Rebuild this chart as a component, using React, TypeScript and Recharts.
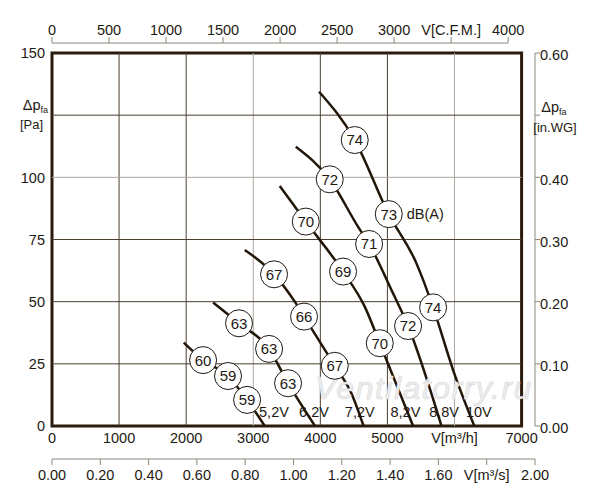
import {
  Line,
  LineChart,
  ReferenceArea,
  ReferenceDot,
  ReferenceLine,
  XAxis,
  YAxis,
} from "recharts";

type Pt = [number, number, number?];

// fan curves: [V m³/h, Δp Pa, dB(A) shown in a circle]
const curve52: Pt[] = [[1964, 33.5], [2252, 26.5, 60], [2624, 20.1, 59], [2908, 10.5, 59], [3171, 0]];
const curve62: Pt[] = [[2401, 49.7], [2788, 41.3, 63], [3236, 31.0, 63], [3519, 17.2, 63], [3920, 0]];
const curve72: Pt[] = [[2873, 70.8], [3310, 61.0, 67], [3619, 50.0], [3757, 44.0, 66], [4215, 24.2, 67], [4464, 13.1], [4645, 0]];
const curve82: Pt[] = [[3395, 96.5], [3783, 82.2, 70], [4339, 62.1, 69], [4662, 48.0], [4886, 33.3, 70], [5383, 0]];
const curve88: Pt[] = [[3634, 112.3], [4140, 99.2, 72], [4563, 80.1], [4727, 73.2, 71], [5060, 54.7], [5308, 40.2, 72], [5806, 0]];
const curve10: Pt[] = [[3981, 134.4], [4513, 115.0, 74], [5020, 85.2, 73], [5433, 65.4], [5681, 47.7, 74], [5979, 22.5], [6295, 0]];

const voltages = ["5,2V", "6,2V", "7,2V", "8,2V", "8,8V", "10V"];
const curves = [curve52, curve62, curve72, curve82, curve88, curve10];
// voltage labels along the bottom (V m³/h), all at the same Δp
const voltLabelQ = [3309, 3906, 4588, 5269, 5845, 6362];
const voltLabelP = 5.6;
const unitLabel = { text: "dB(A)", curve: "10V", point: 2 };

const flowTicks = [0, 1000, 2000, 3000, 4000, 5000, 6000, 7000];
const cfmTicks = [0, 500, 1000, 1500, 2000, 2500, 3000, 3500, 4000];
const m3sTicks = [0, 0.2, 0.4, 0.6, 0.8, 1.0, 1.2, 1.4, 1.6, 1.8, 2.0];
const paTicks = [0, 25, 50, 75, 100, 125, 150];
const wgTicks = [0, 0.1, 0.2, 0.3, 0.4, 0.5, 0.6];
const gridQ = [1000, 2000, 3000, 4000, 5000, 6000];
const gridP = [25, 50, 75, 100, 125];
const lightGridQ = [3000, 6000];
const lightGridP = [100];

const FLOW_MAX = 7200; // = 2.00 m³/s, right end of the lower axis
const FRAME_Q = 7000;
const P_MAX = 150;
const M3H_PER_CFM = 1.7;
const PA_PER_INWG = 250;

const ink = "#1e1912";
const curveInk = "#221608";
const frameInk = "#2a1c0e";
const gridDark = "#4a3e31";
const gridLight = "#aba59c";
const axisGray = "#8d857a";
const FS = 14.5;

const series = voltages.map((v, i) => ({
  name: v,
  rows: curves[i].map(([q, p, db], j) => ({
    q,
    p,
    db,
    note: v === unitLabel.curve && j === unitLabel.point ? unitLabel.text : undefined,
  })),
}));

// invisible helpers so the secondary x axes get a scale
const cfmRows = cfmTicks.map((c) => ({ c, p: 0 }));
const m3sRows = m3sTicks.map((s) => ({ s, p: 0 }));

const renderDot = (props: any) => {
  const { cx, cy, payload, index } = props;
  if (!payload.db) return <g key={`d${index}`} />;
  return (
    <g key={`d${index}`}>
      <circle cx={cx} cy={cy} r={13.5} fill="#fff" stroke={ink} strokeWidth={1} />
      <text x={cx} y={cy} dy="0.36em" textAnchor="middle" fontSize={15} fill={ink}>
        {payload.db}
      </text>
      {payload.note && (
        <text x={cx + 18} y={cy} dy="0.36em" fontSize={FS} fill={ink}>
          {payload.note}
        </text>
      )}
    </g>
  );
};

const CenterText = (props: any) => {
  const { viewBox, text, ...rest } = props;
  return (
    <text
      x={viewBox.x + viewBox.width / 2}
      y={viewBox.y + viewBox.height / 2}
      dy="0.36em"
      textAnchor="middle"
      {...rest}
    >
      {text}
    </text>
  );
};

const PaTick = (props: any) => {
  const { x, y, payload } = props;
  if (payload.value === 125) {
    return (
      <g fill={ink}>
        <text x={x + 3} y={y - 5} textAnchor="end" fontSize={FS}>
          Δp<tspan fontSize={9} dy={3}>fa</tspan>
        </text>
        <text x={x - 2} y={y + 14} textAnchor="end" fontSize={13}>
          [Pa]
        </text>
      </g>
    );
  }
  return (
    <text x={x} y={y} dy="0.36em" textAnchor="end" fontSize={FS} fill={ink}>
      {payload.value}
    </text>
  );
};

const WgTick = (props: any) => {
  const { x, y, payload } = props;
  if (payload.value === 0.5) {
    return (
      <g fill={ink}>
        <text x={x + 14} y={y - 3} textAnchor="middle" fontSize={FS}>
          Δp<tspan fontSize={9} dy={3}>fa</tspan>
        </text>
        <text x={x + 15} y={y + 17} textAnchor="middle" fontSize={13}>
          [in.WG]
        </text>
      </g>
    );
  }
  return (
    <text x={x} y={y} dy="0.5em" textAnchor="start" fontSize={FS} fill={ink}>
      {payload.value.toFixed(2)}
    </text>
  );
};

const FlowTick = (props: any) => {
  const { x, y, payload } = props;
  const label = payload.value === 6000 ? "V[m³/h]" : String(payload.value);
  return (
    <text x={x} y={y + 17} textAnchor="middle" fontSize={FS} fill={ink}>
      {label}
    </text>
  );
};

const M3sTick = (props: any) => {
  const { x, y, payload } = props;
  const label = payload.value === 1.8 ? "V[m³/s]" : payload.value.toFixed(2);
  return (
    <text x={x} y={y + 13} textAnchor="middle" fontSize={FS} fill={ink}>
      {label}
    </text>
  );
};

const CfmTick = (props: any) => {
  const { x, y, payload } = props;
  const label = payload.value === 3500 ? "V[C.F.M.]" : String(payload.value);
  return (
    <g>
      <line x1={x} x2={x} y1={y - 10} y2={y - 16} stroke={axisGray} />
      <text x={x} y={y - 18} textAnchor="middle" fontSize={FS} fill={ink}>
        {label}
      </text>
    </g>
  );
};

const App = () => {
  return (
    <div
      style={{
        position: "absolute",
        left: 0,
        top: 0,
        background: "#fff",
        fontFamily: "'Liberation Sans', Arial, sans-serif",
      }}
    >
      <LineChart width={600} height={500} margin={{ top: 13, right: 0, bottom: 11, left: 0 }}>
        <XAxis
          xAxisId="mh"
          type="number"
          dataKey="q"
          domain={[0, FLOW_MAX]}
          ticks={flowTicks}
          allowDataOverflow
          axisLine={false}
          tickLine={false}
          tickSize={0}
          tickMargin={0}
          height={33}
          tick={<FlowTick />}
        />
        <XAxis
          xAxisId="ms"
          type="number"
          dataKey="s"
          domain={[0, FLOW_MAX / 3600]}
          ticks={m3sTicks}
          allowDataOverflow
          stroke={axisGray}
          tickSize={6}
          tickMargin={2}
          height={30}
          tick={<M3sTick />}
        />
        <XAxis
          xAxisId="cfm"
          orientation="top"
          type="number"
          dataKey="c"
          domain={[0, FLOW_MAX / M3H_PER_CFM]}
          ticks={cfmTicks}
          allowDataOverflow
          axisLine={false}
          tickLine={false}
          tickSize={0}
          tickMargin={0}
          height={40}
          tick={<CfmTick />}
        />
        <YAxis
          yAxisId="pa"
          type="number"
          domain={[0, P_MAX]}
          ticks={paTicks}
          allowDataOverflow
          axisLine={false}
          tickLine={false}
          tickSize={5}
          tickMargin={2}
          width={52}
          tick={<PaTick />}
        />
        <YAxis
          yAxisId="wg"
          orientation="right"
          type="number"
          domain={[0, P_MAX / PA_PER_INWG]}
          ticks={wgTicks}
          allowDataOverflow
          stroke={axisGray}
          tickSize={5}
          tickMargin={0}
          width={65}
          tick={<WgTick />}
        />

        <Line
          xAxisId="cfm"
          yAxisId="pa"
          data={cfmRows}
          dataKey="p"
          stroke="none"
          dot={false}
          activeDot={false}
          isAnimationActive={false}
        />
        <Line
          xAxisId="ms"
          yAxisId="pa"
          data={m3sRows}
          dataKey="p"
          stroke="none"
          dot={false}
          activeDot={false}
          isAnimationActive={false}
        />

        {gridQ.map((q) => (
          <ReferenceLine
            key={`gq${q}`}
            xAxisId="mh"
            yAxisId="pa"
            x={q}
            stroke={lightGridQ.includes(q) ? gridLight : gridDark}
            strokeWidth={1}
          />
        ))}
        {gridP.map((p) => (
          <ReferenceLine
            key={`gp${p}`}
            xAxisId="mh"
            yAxisId="pa"
            segment={[
              { x: 0, y: p },
              { x: FRAME_Q, y: p },
            ]}
            stroke={lightGridP.includes(p) ? gridLight : gridDark}
            strokeWidth={1}
          />
        ))}

        <ReferenceDot
          xAxisId="mh"
          yAxisId="pa"
          x={5542}
          y={15.3}
          r={0}
          fill="none"
          stroke="none"
          ifOverflow="visible"
          label={
            <CenterText
              text="Ventilatorry.ru"
              fontSize={32}
              fontStyle="italic"
              fill="#ededed"
              stroke="#dadada"
              strokeWidth={0.6}
              letterSpacing={1.5}
            />
          }
        />

        <ReferenceArea
          xAxisId="mh"
          yAxisId="pa"
          x1={0}
          x2={FRAME_Q}
          y1={0}
          y2={P_MAX}
          fill="none"
          fillOpacity={0}
          stroke={frameInk}
          strokeWidth={3}
        />

        {/* top C.F.M. axis line, 0..4000, drawn a little above the frame */}
        <ReferenceLine
          xAxisId="cfm"
          yAxisId="pa"
          segment={[
            { x: 0, y: 154 },
            { x: 4000, y: 154 },
          ]}
          ifOverflow="visible"
          stroke={axisGray}
          strokeWidth={1}
        />

        {series.map((s) => (
          <Line
            key={s.name}
            xAxisId="mh"
            yAxisId="pa"
            data={s.rows}
            dataKey="p"
            type="monotone"
            stroke={curveInk}
            strokeWidth={2.5}
            dot={renderDot}
            activeDot={false}
            isAnimationActive={false}
          />
        ))}

        {voltages.map((v, i) => (
          <ReferenceDot
            key={`v${v}`}
            xAxisId="mh"
            yAxisId="pa"
            x={voltLabelQ[i]}
            y={voltLabelP}
            r={0}
            fill="none"
            stroke="none"
            label={<CenterText text={v} fontSize={FS} fill={ink} />}
          />
        ))}
      </LineChart>
    </div>
  );
};

export default App;
